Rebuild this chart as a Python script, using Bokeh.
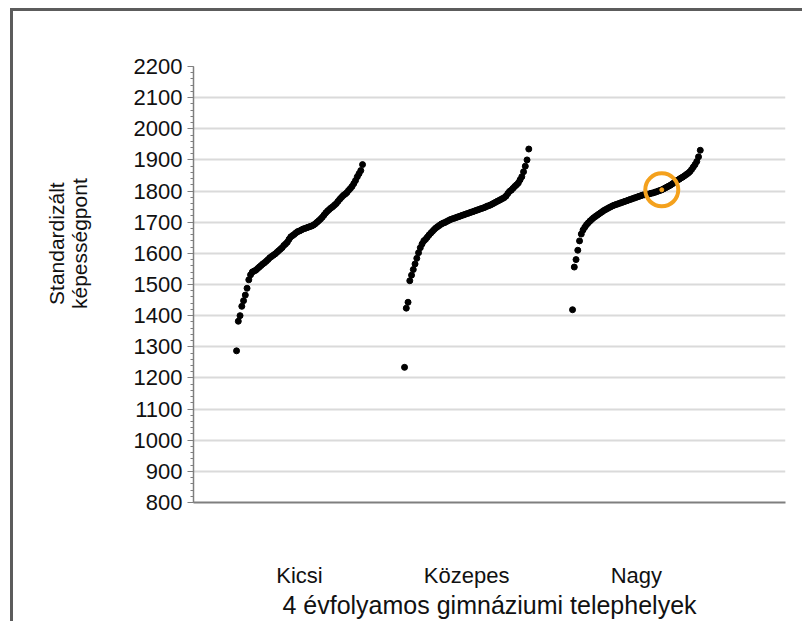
import numpy as np
from bokeh.plotting import figure
from bokeh.models import SingleIntervalTicker, FixedTicker, Range1d, InlineStyleSheet
from bokeh.embed import file_html
from bokeh.resources import INLINE

# ---------------- data ----------------
categories = ["Kicsi", "Közepes", "Nagy"]

kicsi = [1287, 1382, 1400, 1430, 1448, 1466, 1488, 1515, 1531, 1540,
         1543, 1546, 1551, 1556, 1561, 1566, 1570, 1575, 1580, 1586,
         1590, 1594, 1598, 1603, 1608, 1613, 1618, 1625, 1630, 1636,
         1645, 1653, 1657, 1661, 1666, 1670, 1672, 1675, 1678, 1680,
         1682, 1684, 1686, 1688, 1691, 1695, 1700, 1705, 1710, 1716,
         1723, 1730, 1736, 1741, 1746, 1750, 1755, 1760, 1767, 1774,
         1780, 1786, 1790, 1795, 1802, 1808, 1815, 1824, 1834, 1846,
         1856, 1866, 1885]

kozepes = [1234, 1424, 1443, 1512, 1530, 1548, 1566, 1584, 1602, 1618,
           1630, 1640, 1645, 1652, 1659, 1665, 1671, 1677, 1682, 1686,
           1690, 1694, 1697, 1699, 1702, 1705, 1708, 1710, 1712, 1714,
           1716, 1718, 1720, 1722, 1724, 1726, 1728, 1730, 1732, 1734,
           1736, 1738, 1740, 1742, 1744, 1746, 1748, 1751, 1753, 1755,
           1758, 1761, 1764, 1767, 1770, 1773, 1776, 1779, 1784, 1792,
           1799, 1803, 1809, 1815, 1820, 1826, 1836, 1846, 1862, 1880,
           1900, 1935]

nagy = [1419, 1556, 1580, 1610, 1640, 1662, 1675, 1684, 1692, 1698,
        1704, 1709, 1714, 1718, 1722, 1726, 1730, 1734, 1738, 1741,
        1744, 1747, 1750, 1753, 1755, 1757, 1759, 1761, 1763, 1765,
        1767, 1769, 1771, 1773, 1775, 1777, 1779, 1781, 1783, 1785,
        1787, 1788, 1789, 1790, 1791, 1793, 1794, 1796, 1798, 1800,
        1802, 1804, 1807, 1810, 1813, 1816, 1819, 1823, 1827, 1831,
        1835, 1838, 1842, 1845, 1849, 1853, 1857, 1862, 1869, 1877,
        1885, 1895, 1910, 1931]

highlight_group = 2      # Nagy
highlight_rank = 51

y_ticks_interval = 100
y_min, y_max = 800, 2200
x_title = "4 évfolyamos gimnáziumi telephelyek"
y_title_lines = ["Standardizált", "képességpont"]

# ---------------- layout ----------------
FONT = "Liberation Sans"
first_offset = 24.6
group_gap = 96.0
x_max = 338.3
pad = "\u00a0" * 14     # lifts the rotated y title above the frame centre

series = [kicsi, kozepes, nagy]

p = figure(width=794, height=621, output_backend="svg", toolbar_location=None,
           x_range=Range1d(0, x_max), y_range=Range1d(y_min, y_max),
           min_border_left=193, min_border_right=9, min_border_top=66,
           min_border_bottom=115, background_fill_color="white",
           border_fill_color="white")
p.outline_line_color = None

centers = []
for g, vals in enumerate(series):
    off = first_offset + g * group_gap
    xs = off + np.arange(len(vals))
    centers.append(off + (len(vals) - 1) / 2.0)
    p.scatter(xs, vals, size=6, fill_color="black", line_color="black")

hx = first_offset + highlight_group * group_gap + highlight_rank
hy = series[highlight_group][highlight_rank]
p.scatter([hx], [hy], size=4, fill_color="#F4A11D", line_color="#F4A11D")
p.scatter([hx], [hy], size=33, fill_color=None, line_color="#F4A11D", line_width=4)

# y axis
yax = p.yaxis[0]
yax.ticker = SingleIntervalTicker(interval=y_ticks_interval, num_minor_ticks=5)
yax.axis_line_color = "#7f7f7f"
yax.axis_line_width = 1.5
yax.major_tick_line_color = "#7f7f7f"
yax.minor_tick_line_color = "#7f7f7f"
yax.major_tick_in = 0
yax.major_tick_out = 6
yax.minor_tick_in = 0
yax.minor_tick_out = 3
yax.major_label_standoff = 5
yax.major_label_text_font = FONT
yax.major_label_text_font_size = "22px"
yax.major_label_text_color = "#111111"
yax.axis_label = "\n".join(pad + line for line in y_title_lines)
yax.axis_label_text_font = FONT
yax.axis_label_text_font_size = "21px"
yax.axis_label_text_font_style = "normal"
yax.axis_label_text_color = "#111111"
yax.axis_label_text_line_height = 1.0
yax.axis_label_standoff = 40

# x axis
xax = p.xaxis[0]
xax.ticker = FixedTicker(ticks=centers)
xax.major_label_overrides = {c: name for c, name in zip(centers, categories)}
xax.axis_line_color = "#7f7f7f"
xax.axis_line_width = 2
xax.major_tick_line_color = None
xax.minor_tick_line_color = None
xax.major_tick_out = 0
xax.major_label_standoff = 60
xax.major_label_text_font = FONT
xax.major_label_text_font_size = "22px"
xax.major_label_text_color = "#111111"
xax.axis_label = x_title
xax.axis_label_text_font = FONT
xax.axis_label_text_font_size = "25px"
xax.axis_label_text_font_style = "normal"
xax.axis_label_text_color = "#111111"
xax.axis_label_standoff = 0

p.xgrid.visible = False
p.ygrid.grid_line_color = "#dadada"
p.ygrid.grid_line_width = 2
p.ygrid.ticker = SingleIntervalTicker(interval=y_ticks_interval)

css = InlineStyleSheet(css="""
:host { position: relative; }
:host::after {
  content: ""; position: absolute; left: 10px; top: 8px;
  width: calc(100% - 2px); height: calc(100% - 8px);
  box-sizing: border-box;
  border-left: 3px solid #5c5c5c; border-top: 3px solid #5c5c5c;
  pointer-events: none;
}
""")
p.stylesheets = [css]

open("out.html", "w").write(file_html(p, INLINE))
